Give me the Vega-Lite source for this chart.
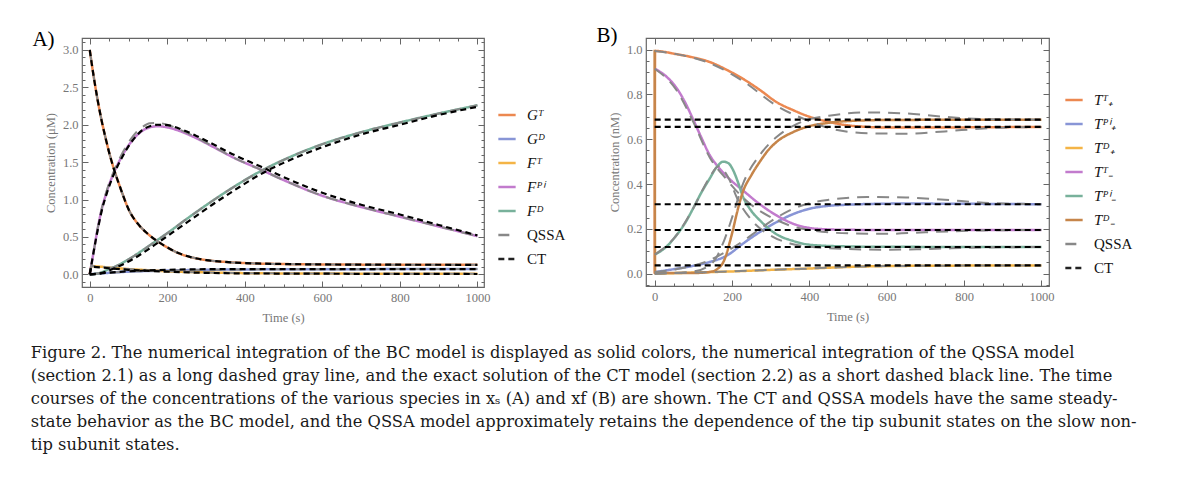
{
  "$schema": "https://vega.github.io/schema/vega-lite/v6.json",
  "padding": {"left": 30, "top": 24, "right": 10, "bottom": 10},
  "datasets": {
    "A_BC": [
      {"s":"Gᵀ","t":0,"c":3.0},{"s":"Gᵀ","t":10,"c":2.65},{"s":"Gᵀ","t":20,"c":2.34},{"s":"Gᵀ","t":30,"c":2.07},{"s":"Gᵀ","t":40,"c":1.84},{"s":"Gᵀ","t":50,"c":1.63},{"s":"Gᵀ","t":64,"c":1.38},{"s":"Gᵀ","t":80,"c":1.14},{"s":"Gᵀ","t":101,"c":0.86},{"s":"Gᵀ","t":125,"c":0.67},{"s":"Gᵀ","t":150,"c":0.54},{"s":"Gᵀ","t":175,"c":0.44},{"s":"Gᵀ","t":200,"c":0.36},{"s":"Gᵀ","t":230,"c":0.28},{"s":"Gᵀ","t":260,"c":0.23},{"s":"Gᵀ","t":300,"c":0.19},{"s":"Gᵀ","t":350,"c":0.165},{"s":"Gᵀ","t":400,"c":0.15},{"s":"Gᵀ","t":500,"c":0.137},{"s":"Gᵀ","t":600,"c":0.132},{"s":"Gᵀ","t":800,"c":0.128},{"s":"Gᵀ","t":1000,"c":0.127},
      {"s":"Gᴰ","t":0,"c":0},{"s":"Gᴰ","t":10,"c":0.005},{"s":"Gᴰ","t":50,"c":0.02},{"s":"Gᴰ","t":100,"c":0.035},{"s":"Gᴰ","t":200,"c":0.05},{"s":"Gᴰ","t":300,"c":0.06},{"s":"Gᴰ","t":400,"c":0.065},{"s":"Gᴰ","t":600,"c":0.068},{"s":"Gᴰ","t":1000,"c":0.07},
      {"s":"Fᵀ","t":0,"c":0},{"s":"Fᵀ","t":5,"c":0.11},{"s":"Fᵀ","t":20,"c":0.105},{"s":"Fᵀ","t":50,"c":0.09},{"s":"Fᵀ","t":100,"c":0.07},{"s":"Fᵀ","t":150,"c":0.055},{"s":"Fᵀ","t":200,"c":0.04},{"s":"Fᵀ","t":300,"c":0.025},{"s":"Fᵀ","t":400,"c":0.015},{"s":"Fᵀ","t":600,"c":0.01},{"s":"Fᵀ","t":1000,"c":0.006},
      {"s":"Fᴾⁱ","t":0,"c":0},{"s":"Fᴾⁱ","t":5,"c":0.15},{"s":"Fᴾⁱ","t":10,"c":0.3},{"s":"Fᴾⁱ","t":20,"c":0.6},{"s":"Fᴾⁱ","t":30,"c":0.85},{"s":"Fᴾⁱ","t":45,"c":1.12},{"s":"Fᴾⁱ","t":64,"c":1.38},{"s":"Fᴾⁱ","t":80,"c":1.55},{"s":"Fᴾⁱ","t":101,"c":1.73},{"s":"Fᴾⁱ","t":120,"c":1.85},{"s":"Fᴾⁱ","t":136,"c":1.92},{"s":"Fᴾⁱ","t":155,"c":1.965},{"s":"Fᴾⁱ","t":175,"c":1.98},{"s":"Fᴾⁱ","t":200,"c":1.965},{"s":"Fᴾⁱ","t":230,"c":1.92},{"s":"Fᴾⁱ","t":275,"c":1.82},{"s":"Fᴾⁱ","t":316,"c":1.71},{"s":"Fᴾⁱ","t":375,"c":1.55},{"s":"Fᴾⁱ","t":441,"c":1.4},{"s":"Fᴾⁱ","t":500,"c":1.26},{"s":"Fᴾⁱ","t":600,"c":1.05},{"s":"Fᴾⁱ","t":700,"c":0.9},{"s":"Fᴾⁱ","t":800,"c":0.77},{"s":"Fᴾⁱ","t":900,"c":0.64},{"s":"Fᴾⁱ","t":1000,"c":0.51},
      {"s":"Fᴰ","t":0,"c":0},{"s":"Fᴰ","t":20,"c":0.01},{"s":"Fᴰ","t":50,"c":0.07},{"s":"Fᴰ","t":64,"c":0.1},{"s":"Fᴰ","t":100,"c":0.2},{"s":"Fᴰ","t":150,"c":0.37},{"s":"Fᴰ","t":175,"c":0.46},{"s":"Fᴰ","t":200,"c":0.55},{"s":"Fᴰ","t":250,"c":0.74},{"s":"Fᴰ","t":316,"c":0.98},{"s":"Fᴰ","t":375,"c":1.18},{"s":"Fᴰ","t":441,"c":1.38},{"s":"Fᴰ","t":500,"c":1.53},{"s":"Fᴰ","t":600,"c":1.74},{"s":"Fᴰ","t":700,"c":1.9},{"s":"Fᴰ","t":800,"c":2.03},{"s":"Fᴰ","t":900,"c":2.15},{"s":"Fᴰ","t":1000,"c":2.26}
    ],
    "A_QSSA": [
      {"s":"Gᵀ","t":0,"c":3.0},{"s":"Gᵀ","t":10,"c":2.65},{"s":"Gᵀ","t":20,"c":2.34},{"s":"Gᵀ","t":30,"c":2.07},{"s":"Gᵀ","t":40,"c":1.84},{"s":"Gᵀ","t":50,"c":1.63},{"s":"Gᵀ","t":64,"c":1.38},{"s":"Gᵀ","t":80,"c":1.14},{"s":"Gᵀ","t":101,"c":0.86},{"s":"Gᵀ","t":125,"c":0.67},{"s":"Gᵀ","t":150,"c":0.54},{"s":"Gᵀ","t":175,"c":0.44},{"s":"Gᵀ","t":200,"c":0.36},{"s":"Gᵀ","t":230,"c":0.28},{"s":"Gᵀ","t":260,"c":0.23},{"s":"Gᵀ","t":300,"c":0.19},{"s":"Gᵀ","t":350,"c":0.165},{"s":"Gᵀ","t":400,"c":0.15},{"s":"Gᵀ","t":500,"c":0.137},{"s":"Gᵀ","t":600,"c":0.132},{"s":"Gᵀ","t":800,"c":0.128},{"s":"Gᵀ","t":1000,"c":0.127},
      {"s":"Gᴰ","t":0,"c":0},{"s":"Gᴰ","t":10,"c":0.005},{"s":"Gᴰ","t":50,"c":0.02},{"s":"Gᴰ","t":100,"c":0.035},{"s":"Gᴰ","t":200,"c":0.05},{"s":"Gᴰ","t":300,"c":0.06},{"s":"Gᴰ","t":400,"c":0.065},{"s":"Gᴰ","t":600,"c":0.068},{"s":"Gᴰ","t":1000,"c":0.07},
      {"s":"Fᵀ","t":0,"c":0},{"s":"Fᵀ","t":5,"c":0.11},{"s":"Fᵀ","t":20,"c":0.105},{"s":"Fᵀ","t":50,"c":0.09},{"s":"Fᵀ","t":100,"c":0.07},{"s":"Fᵀ","t":150,"c":0.055},{"s":"Fᵀ","t":200,"c":0.04},{"s":"Fᵀ","t":300,"c":0.025},{"s":"Fᵀ","t":400,"c":0.015},{"s":"Fᵀ","t":600,"c":0.01},{"s":"Fᵀ","t":1000,"c":0.006},
      {"s":"Fᴾⁱ","t":0,"c":0},{"s":"Fᴾⁱ","t":5,"c":0.15},{"s":"Fᴾⁱ","t":10,"c":0.3},{"s":"Fᴾⁱ","t":20,"c":0.6},{"s":"Fᴾⁱ","t":30,"c":0.86},{"s":"Fᴾⁱ","t":45,"c":1.14},{"s":"Fᴾⁱ","t":64,"c":1.4},{"s":"Fᴾⁱ","t":80,"c":1.58},{"s":"Fᴾⁱ","t":101,"c":1.77},{"s":"Fᴾⁱ","t":120,"c":1.9},{"s":"Fᴾⁱ","t":136,"c":1.97},{"s":"Fᴾⁱ","t":155,"c":2.02},{"s":"Fᴾⁱ","t":175,"c":2.025},{"s":"Fᴾⁱ","t":200,"c":2.0},{"s":"Fᴾⁱ","t":230,"c":1.94},{"s":"Fᴾⁱ","t":275,"c":1.83},{"s":"Fᴾⁱ","t":316,"c":1.715},{"s":"Fᴾⁱ","t":375,"c":1.55},{"s":"Fᴾⁱ","t":441,"c":1.4},{"s":"Fᴾⁱ","t":500,"c":1.26},{"s":"Fᴾⁱ","t":600,"c":1.05},{"s":"Fᴾⁱ","t":700,"c":0.9},{"s":"Fᴾⁱ","t":800,"c":0.77},{"s":"Fᴾⁱ","t":900,"c":0.64},{"s":"Fᴾⁱ","t":1000,"c":0.51},
      {"s":"Fᴰ","t":0,"c":0},{"s":"Fᴰ","t":20,"c":0.01},{"s":"Fᴰ","t":50,"c":0.07},{"s":"Fᴰ","t":64,"c":0.1},{"s":"Fᴰ","t":100,"c":0.2},{"s":"Fᴰ","t":150,"c":0.37},{"s":"Fᴰ","t":175,"c":0.46},{"s":"Fᴰ","t":200,"c":0.55},{"s":"Fᴰ","t":250,"c":0.74},{"s":"Fᴰ","t":316,"c":0.98},{"s":"Fᴰ","t":375,"c":1.18},{"s":"Fᴰ","t":441,"c":1.38},{"s":"Fᴰ","t":500,"c":1.53},{"s":"Fᴰ","t":600,"c":1.74},{"s":"Fᴰ","t":700,"c":1.9},{"s":"Fᴰ","t":800,"c":2.03},{"s":"Fᴰ","t":900,"c":2.15},{"s":"Fᴰ","t":1000,"c":2.26}
    ],
    "A_CT": [
      {"s":"Gᵀ","t":0,"c":3.0},{"s":"Gᵀ","t":10,"c":2.65},{"s":"Gᵀ","t":20,"c":2.34},{"s":"Gᵀ","t":30,"c":2.07},{"s":"Gᵀ","t":40,"c":1.84},{"s":"Gᵀ","t":50,"c":1.63},{"s":"Gᵀ","t":64,"c":1.38},{"s":"Gᵀ","t":80,"c":1.14},{"s":"Gᵀ","t":101,"c":0.86},{"s":"Gᵀ","t":125,"c":0.67},{"s":"Gᵀ","t":150,"c":0.54},{"s":"Gᵀ","t":175,"c":0.44},{"s":"Gᵀ","t":200,"c":0.36},{"s":"Gᵀ","t":230,"c":0.28},{"s":"Gᵀ","t":260,"c":0.23},{"s":"Gᵀ","t":300,"c":0.19},{"s":"Gᵀ","t":350,"c":0.165},{"s":"Gᵀ","t":400,"c":0.15},{"s":"Gᵀ","t":500,"c":0.137},{"s":"Gᵀ","t":600,"c":0.132},{"s":"Gᵀ","t":800,"c":0.128},{"s":"Gᵀ","t":1000,"c":0.127},
      {"s":"Gᴰ","t":0,"c":0},{"s":"Gᴰ","t":100,"c":0.04},{"s":"Gᴰ","t":200,"c":0.06},{"s":"Gᴰ","t":300,"c":0.068},{"s":"Gᴰ","t":1000,"c":0.07},
      {"s":"Fᵀ","t":0,"c":0},{"s":"Fᵀ","t":5,"c":0.1},{"s":"Fᵀ","t":50,"c":0.08},{"s":"Fᵀ","t":100,"c":0.06},{"s":"Fᵀ","t":200,"c":0.035},{"s":"Fᵀ","t":400,"c":0.012},{"s":"Fᵀ","t":1000,"c":0.004},
      {"s":"Fᴾⁱ","t":0,"c":0},{"s":"Fᴾⁱ","t":5,"c":0.15},{"s":"Fᴾⁱ","t":10,"c":0.3},{"s":"Fᴾⁱ","t":20,"c":0.58},{"s":"Fᴾⁱ","t":30,"c":0.83},{"s":"Fᴾⁱ","t":45,"c":1.1},{"s":"Fᴾⁱ","t":64,"c":1.36},{"s":"Fᴾⁱ","t":80,"c":1.53},{"s":"Fᴾⁱ","t":101,"c":1.72},{"s":"Fᴾⁱ","t":120,"c":1.85},{"s":"Fᴾⁱ","t":136,"c":1.93},{"s":"Fᴾⁱ","t":155,"c":1.98},{"s":"Fᴾⁱ","t":175,"c":2.0},{"s":"Fᴾⁱ","t":200,"c":1.995},{"s":"Fᴾⁱ","t":230,"c":1.95},{"s":"Fᴾⁱ","t":275,"c":1.85},{"s":"Fᴾⁱ","t":316,"c":1.745},{"s":"Fᴾⁱ","t":375,"c":1.59},{"s":"Fᴾⁱ","t":441,"c":1.44},{"s":"Fᴾⁱ","t":500,"c":1.3},{"s":"Fᴾⁱ","t":600,"c":1.09},{"s":"Fᴾⁱ","t":700,"c":0.93},{"s":"Fᴾⁱ","t":800,"c":0.8},{"s":"Fᴾⁱ","t":900,"c":0.66},{"s":"Fᴾⁱ","t":1000,"c":0.52},
      {"s":"Fᴰ","t":0,"c":0},{"s":"Fᴰ","t":20,"c":0.005},{"s":"Fᴰ","t":50,"c":0.05},{"s":"Fᴰ","t":64,"c":0.08},{"s":"Fᴰ","t":100,"c":0.17},{"s":"Fᴰ","t":150,"c":0.33},{"s":"Fᴰ","t":175,"c":0.42},{"s":"Fᴰ","t":200,"c":0.51},{"s":"Fᴰ","t":250,"c":0.69},{"s":"Fᴰ","t":316,"c":0.93},{"s":"Fᴰ","t":375,"c":1.13},{"s":"Fᴰ","t":441,"c":1.34},{"s":"Fᴰ","t":500,"c":1.49},{"s":"Fᴰ","t":600,"c":1.7},{"s":"Fᴰ","t":700,"c":1.87},{"s":"Fᴰ","t":800,"c":2.0},{"s":"Fᴰ","t":900,"c":2.13},{"s":"Fᴰ","t":1000,"c":2.24}
    ],
    "B_BC": [
      {"s":"Tᵀ₊","t":0,"c":0},{"s":"Tᵀ₊","t":1,"c":0.994},{"s":"Tᵀ₊","t":56,"c":0.98},{"s":"Tᵀ₊","t":100,"c":0.965},{"s":"Tᵀ₊","t":142,"c":0.945},{"s":"Tᵀ₊","t":186,"c":0.91},{"s":"Tᵀ₊","t":228,"c":0.87},{"s":"Tᵀ₊","t":272,"c":0.82},{"s":"Tᵀ₊","t":315,"c":0.766},{"s":"Tᵀ₊","t":358,"c":0.73},{"s":"Tᵀ₊","t":401,"c":0.7},{"s":"Tᵀ₊","t":444,"c":0.68},{"s":"Tᵀ₊","t":487,"c":0.665},{"s":"Tᵀ₊","t":550,"c":0.655},{"s":"Tᵀ₊","t":600,"c":0.652},{"s":"Tᵀ₊","t":700,"c":0.652},{"s":"Tᵀ₊","t":800,"c":0.653},{"s":"Tᵀ₊","t":1000,"c":0.655},
      {"s":"Tᴾⁱ₊","t":0,"c":0.007},{"s":"Tᴾⁱ₊","t":56,"c":0.022},{"s":"Tᴾⁱ₊","t":100,"c":0.035},{"s":"Tᴾⁱ₊","t":142,"c":0.052},{"s":"Tᴾⁱ₊","t":186,"c":0.08},{"s":"Tᴾⁱ₊","t":228,"c":0.134},{"s":"Tᴾⁱ₊","t":272,"c":0.186},{"s":"Tᴾⁱ₊","t":315,"c":0.23},{"s":"Tᴾⁱ₊","t":358,"c":0.266},{"s":"Tᴾⁱ₊","t":401,"c":0.29},{"s":"Tᴾⁱ₊","t":444,"c":0.302},{"s":"Tᴾⁱ₊","t":487,"c":0.307},{"s":"Tᴾⁱ₊","t":550,"c":0.311},{"s":"Tᴾⁱ₊","t":650,"c":0.313},{"s":"Tᴾⁱ₊","t":800,"c":0.312},{"s":"Tᴾⁱ₊","t":1000,"c":0.31},
      {"s":"Tᴰ₊","t":0,"c":0},{"s":"Tᴰ₊","t":100,"c":0.005},{"s":"Tᴰ₊","t":200,"c":0.01},{"s":"Tᴰ₊","t":300,"c":0.017},{"s":"Tᴰ₊","t":400,"c":0.023},{"s":"Tᴰ₊","t":500,"c":0.03},{"s":"Tᴰ₊","t":600,"c":0.034},{"s":"Tᴰ₊","t":800,"c":0.036},{"s":"Tᴰ₊","t":1000,"c":0.037},
      {"s":"Tᵀ₋","t":0,"c":0.915},{"s":"Tᵀ₋","t":30,"c":0.88},{"s":"Tᵀ₋","t":56,"c":0.83},{"s":"Tᵀ₋","t":80,"c":0.76},{"s":"Tᵀ₋","t":99,"c":0.69},{"s":"Tᵀ₋","t":120,"c":0.61},{"s":"Tᵀ₋","t":142,"c":0.53},{"s":"Tᵀ₋","t":165,"c":0.475},{"s":"Tᵀ₋","t":186,"c":0.435},{"s":"Tᵀ₋","t":228,"c":0.372},{"s":"Tᵀ₋","t":272,"c":0.31},{"s":"Tᵀ₋","t":315,"c":0.26},{"s":"Tᵀ₋","t":358,"c":0.223},{"s":"Tᵀ₋","t":401,"c":0.204},{"s":"Tᵀ₋","t":444,"c":0.198},{"s":"Tᵀ₋","t":487,"c":0.196},{"s":"Tᵀ₋","t":600,"c":0.195},{"s":"Tᵀ₋","t":1000,"c":0.195},
      {"s":"Tᴾⁱ₋","t":0,"c":0.085},{"s":"Tᴾⁱ₋","t":30,"c":0.12},{"s":"Tᴾⁱ₋","t":56,"c":0.171},{"s":"Tᴾⁱ₋","t":80,"c":0.23},{"s":"Tᴾⁱ₋","t":99,"c":0.29},{"s":"Tᴾⁱ₋","t":120,"c":0.36},{"s":"Tᴾⁱ₋","t":142,"c":0.424},{"s":"Tᴾⁱ₋","t":160,"c":0.475},{"s":"Tᴾⁱ₋","t":177,"c":0.5},{"s":"Tᴾⁱ₋","t":190,"c":0.494},{"s":"Tᴾⁱ₋","t":202,"c":0.465},{"s":"Tᴾⁱ₋","t":215,"c":0.41},{"s":"Tᴾⁱ₋","t":228,"c":0.345},{"s":"Tᴾⁱ₋","t":250,"c":0.28},{"s":"Tᴾⁱ₋","t":272,"c":0.238},{"s":"Tᴾⁱ₋","t":315,"c":0.176},{"s":"Tᴾⁱ₋","t":358,"c":0.146},{"s":"Tᴾⁱ₋","t":401,"c":0.129},{"s":"Tᴾⁱ₋","t":487,"c":0.122},{"s":"Tᴾⁱ₋","t":600,"c":0.12},{"s":"Tᴾⁱ₋","t":1000,"c":0.119},
      {"s":"Tᴰ₋","t":0,"c":1.0},{"s":"Tᴰ₋","t":1,"c":0.003},{"s":"Tᴰ₋","t":100,"c":0.003},{"s":"Tᴰ₋","t":150,"c":0.01},{"s":"Tᴰ₋","t":165,"c":0.025},{"s":"Tᴰ₋","t":177,"c":0.05},{"s":"Tᴰ₋","t":186,"c":0.09},{"s":"Tᴰ₋","t":194,"c":0.14},{"s":"Tᴰ₋","t":203,"c":0.2},{"s":"Tᴰ₋","t":211,"c":0.26},{"s":"Tᴰ₋","t":220,"c":0.32},{"s":"Tᴰ₋","t":228,"c":0.365},{"s":"Tᴰ₋","t":250,"c":0.44},{"s":"Tᴰ₋","t":272,"c":0.5},{"s":"Tᴰ₋","t":293,"c":0.55},{"s":"Tᴰ₋","t":315,"c":0.588},{"s":"Tᴰ₋","t":358,"c":0.632},{"s":"Tᴰ₋","t":401,"c":0.659},{"s":"Tᴰ₋","t":444,"c":0.672},{"s":"Tᴰ₋","t":487,"c":0.68},{"s":"Tᴰ₋","t":600,"c":0.686},{"s":"Tᴰ₋","t":1000,"c":0.6875}
    ],
    "B_QSSA": [
      {"s":"Tᵀ₊","t":0,"c":0.994},{"s":"Tᵀ₊","t":56,"c":0.98},{"s":"Tᵀ₊","t":142,"c":0.94},{"s":"Tᵀ₊","t":228,"c":0.86},{"s":"Tᵀ₊","t":315,"c":0.75},{"s":"Tᵀ₊","t":401,"c":0.68},{"s":"Tᵀ₊","t":450,"c":0.65},{"s":"Tᵀ₊","t":550,"c":0.627},{"s":"Tᵀ₊","t":650,"c":0.625},{"s":"Tᵀ₊","t":750,"c":0.635},{"s":"Tᵀ₊","t":850,"c":0.648},{"s":"Tᵀ₊","t":1000,"c":0.655},
      {"s":"Tᴾⁱ₊","t":0,"c":0.007},{"s":"Tᴾⁱ₊","t":56,"c":0.02},{"s":"Tᴾⁱ₊","t":142,"c":0.06},{"s":"Tᴾⁱ₊","t":186,"c":0.1},{"s":"Tᴾⁱ₊","t":228,"c":0.145},{"s":"Tᴾⁱ₊","t":272,"c":0.2},{"s":"Tᴾⁱ₊","t":315,"c":0.25},{"s":"Tᴾⁱ₊","t":358,"c":0.29},{"s":"Tᴾⁱ₊","t":401,"c":0.315},{"s":"Tᴾⁱ₊","t":450,"c":0.33},{"s":"Tᴾⁱ₊","t":550,"c":0.342},{"s":"Tᴾⁱ₊","t":650,"c":0.34},{"s":"Tᴾⁱ₊","t":750,"c":0.33},{"s":"Tᴾⁱ₊","t":850,"c":0.317},{"s":"Tᴾⁱ₊","t":1000,"c":0.31},
      {"s":"Tᴰ₊","t":0,"c":0},{"s":"Tᴰ₊","t":100,"c":0.005},{"s":"Tᴰ₊","t":200,"c":0.01},{"s":"Tᴰ₊","t":300,"c":0.017},{"s":"Tᴰ₊","t":400,"c":0.023},{"s":"Tᴰ₊","t":500,"c":0.03},{"s":"Tᴰ₊","t":600,"c":0.034},{"s":"Tᴰ₊","t":800,"c":0.036},{"s":"Tᴰ₊","t":1000,"c":0.037},
      {"s":"Tᵀ₋","t":0,"c":0.915},{"s":"Tᵀ₋","t":56,"c":0.82},{"s":"Tᵀ₋","t":99,"c":0.68},{"s":"Tᵀ₋","t":142,"c":0.52},{"s":"Tᵀ₋","t":186,"c":0.42},{"s":"Tᵀ₋","t":228,"c":0.34},{"s":"Tᵀ₋","t":272,"c":0.28},{"s":"Tᵀ₋","t":315,"c":0.24},{"s":"Tᵀ₋","t":358,"c":0.21},{"s":"Tᵀ₋","t":401,"c":0.195},{"s":"Tᵀ₋","t":500,"c":0.18},{"s":"Tᵀ₋","t":600,"c":0.178},{"s":"Tᵀ₋","t":700,"c":0.185},{"s":"Tᵀ₋","t":850,"c":0.193},{"s":"Tᵀ₋","t":1000,"c":0.195},
      {"s":"Tᴾⁱ₋","t":0,"c":0.085},{"s":"Tᴾⁱ₋","t":56,"c":0.171},{"s":"Tᴾⁱ₋","t":99,"c":0.29},{"s":"Tᴾⁱ₋","t":142,"c":0.43},{"s":"Tᴾⁱ₋","t":165,"c":0.48},{"s":"Tᴾⁱ₋","t":190,"c":0.43},{"s":"Tᴾⁱ₋","t":215,"c":0.33},{"s":"Tᴾⁱ₋","t":250,"c":0.24},{"s":"Tᴾⁱ₋","t":300,"c":0.17},{"s":"Tᴾⁱ₋","t":350,"c":0.135},{"s":"Tᴾⁱ₋","t":400,"c":0.12},{"s":"Tᴾⁱ₋","t":500,"c":0.11},{"s":"Tᴾⁱ₋","t":600,"c":0.107},{"s":"Tᴾⁱ₋","t":700,"c":0.11},{"s":"Tᴾⁱ₋","t":850,"c":0.117},{"s":"Tᴾⁱ₋","t":1000,"c":0.119},
      {"s":"Tᴰ₋","t":0,"c":0},{"s":"Tᴰ₋","t":100,"c":0.01},{"s":"Tᴰ₋","t":150,"c":0.05},{"s":"Tᴰ₋","t":180,"c":0.15},{"s":"Tᴰ₋","t":200,"c":0.25},{"s":"Tᴰ₋","t":228,"c":0.4},{"s":"Tᴰ₋","t":272,"c":0.53},{"s":"Tᴰ₋","t":315,"c":0.61},{"s":"Tᴰ₋","t":358,"c":0.66},{"s":"Tᴰ₋","t":401,"c":0.69},{"s":"Tᴰ₋","t":450,"c":0.705},{"s":"Tᴰ₋","t":550,"c":0.72},{"s":"Tᴰ₋","t":650,"c":0.715},{"s":"Tᴰ₋","t":750,"c":0.7},{"s":"Tᴰ₋","t":850,"c":0.69},{"s":"Tᴰ₋","t":1000,"c":0.6875}
    ],
    "B_CT": [
      {"s":"Tᵀ₊","t":0,"c":0.655},{"s":"Tᵀ₊","t":1000,"c":0.655},
      {"s":"Tᴾⁱ₊","t":0,"c":0.31},{"s":"Tᴾⁱ₊","t":1000,"c":0.31},
      {"s":"Tᴰ₊","t":0,"c":0.037},{"s":"Tᴰ₊","t":1000,"c":0.037},
      {"s":"Tᵀ₋","t":0,"c":0.195},{"s":"Tᵀ₋","t":1000,"c":0.195},
      {"s":"Tᴾⁱ₋","t":0,"c":0.119},{"s":"Tᴾⁱ₋","t":1000,"c":0.119},
      {"s":"Tᴰ₋","t":0,"c":0.6875},{"s":"Tᴰ₋","t":1000,"c":0.6875}
    ]
  },
  "title": {
    "text": [
      "Figure 2. The numerical integration of the BC model is displayed as solid colors, the numerical integration of the QSSA model",
      "(section 2.1) as a long dashed gray line, and the exact solution of the CT model (section 2.2) as a short dashed black line. The time",
      "courses of the concentrations of the various species in xₛ (A) and xf (B) are shown. The CT and QSSA models have the same steady-",
      "state behavior as the BC model, and the QSSA model approximately retains the dependence of the tip subunit states on the slow non-",
      "tip subunit states."
    ],
    "orient": "bottom", "anchor": "start", "frame": "bounds",
    "font": "DejaVu Serif", "fontSize": 16.3, "fontWeight": "normal", "lineHeight": 23, "color": "#1a1a1a", "offset": 20, "dx": -1
  },
  "spacing": 28,
  "resolve": {"scale": {"color": "independent", "strokeDash": "independent"}, "legend": {"color": "independent", "strokeDash": "independent"}},
  "hconcat": [
    {
      "width": 402, "height": 249,
      "title": {"text": "A)", "anchor": "start", "frame": "bounds", "fontSize": 21, "font": "Liberation Serif", "fontWeight": "normal", "color": "#000", "dx": -12, "dy": 14, "offset": 0},
      "resolve": {"axis": {"x": "independent", "y": "independent"}},
      "layer": [
        {"mark": {"type": "rule", "color": "#dddddd", "strokeWidth": 1}, "encoding": {"y": {"datum": 0, "type": "quantitative", "axis": null}}},
        {"mark": {"type": "rule", "color": "#dddddd", "strokeWidth": 1}, "encoding": {"x": {"datum": 0, "type": "quantitative", "axis": null}}},
        {
          "data": {"name": "A_BC"},
          "mark": {"type": "line", "strokeWidth": 2.5, "interpolate": "monotone"},
          "encoding": {
            "x": {"field": "t", "type": "quantitative", "scale": {"domain": [-20, 1017], "nice": false, "zero": false},
              "axis": {"orient": "bottom", "title": "Time (s)", "values": [0,50,100,150,200,250,300,350,400,450,500,550,600,650,700,750,800,850,900,950,1000], "format": "d",
                "labelExpr": "datum.value % 200 === 0 ? datum.label : ''",
                "tickSize": {"condition": {"test": "datum.value % 200 === 0", "value": -6}, "value": -3}}},
            "y": {"field": "c", "type": "quantitative", "scale": {"domain": [-0.17, 3.16], "nice": false, "zero": false},
              "axis": {"orient": "left", "title": "Concentration (μM)", "values": [-0.1,0,0.1,0.2,0.3,0.4,0.5,0.6,0.7,0.8,0.9,1,1.1,1.2,1.3,1.4,1.5,1.6,1.7,1.8,1.9,2,2.1,2.2,2.3,2.4,2.5,2.6,2.7,2.8,2.9,3,3.1], "format": ".1f",
                "labelExpr": "abs(datum.value*2 - round(datum.value*2)) < 0.001 ? datum.label : ''",
                "tickSize": {"condition": {"test": "abs(datum.value*2 - round(datum.value*2)) < 0.001", "value": -6}, "value": -3}}},
            "color": {"field": "s", "type": "nominal", "scale": {"domain": ["Gᵀ","Gᴰ","Fᵀ","Fᴾⁱ","Fᴰ","QSSA","CT"], "range": ["#EC8850","#8895D6","#F4B446","#C27BCD","#78B19B","#888888","#222222"]},
              "legend": {"title": null, "orient": "none", "legendX": 415, "legendY": 67,
                "encode": {"labels": {"update": {"fontStyle": {"signal": "datum.label === 'QSSA' || datum.label === 'CT' ? 'normal' : 'italic'"}}}}}},
            "strokeDash": {"field": "s", "type": "nominal", "scale": {"domain": ["Gᵀ","Gᴰ","Fᵀ","Fᴾⁱ","Fᴰ","QSSA","CT"], "range": [[1,0],[1,0],[1,0],[1,0],[1,0],[11,8],[6,4]]},
              "legend": {"title": null, "orient": "none", "legendX": 415, "legendY": 67,
                "encode": {"labels": {"update": {"fontStyle": {"signal": "datum.label === 'QSSA' || datum.label === 'CT' ? 'normal' : 'italic'"}}}}}}
          }
        },
        {
          "data": {"name": "A_QSSA"},
          "mark": {"type": "line", "strokeWidth": 2, "color": "#888888", "strokeDash": [12, 8], "interpolate": "monotone"},
          "encoding": {
            "detail": {"field": "s"},
            "x": {"field": "t", "type": "quantitative", "axis": {"orient": "top", "title": null, "labels": false, "values": [0,50,100,150,200,250,300,350,400,450,500,550,600,650,700,750,800,850,900,950,1000],
              "tickSize": {"condition": {"test": "datum.value % 200 === 0", "value": -6}, "value": -3}}},
            "y": {"field": "c", "type": "quantitative", "axis": {"orient": "right", "title": null, "labels": false, "values": [-0.1,0,0.1,0.2,0.3,0.4,0.5,0.6,0.7,0.8,0.9,1,1.1,1.2,1.3,1.4,1.5,1.6,1.7,1.8,1.9,2,2.1,2.2,2.3,2.4,2.5,2.6,2.7,2.8,2.9,3,3.1],
              "tickSize": {"condition": {"test": "abs(datum.value*2 - round(datum.value*2)) < 0.001", "value": -6}, "value": -3}}}
          }
        },
        {
          "data": {"name": "A_CT"},
          "mark": {"type": "line", "strokeWidth": 2.2, "color": "#000000", "strokeDash": [6, 4], "interpolate": "monotone"},
          "encoding": {
            "detail": {"field": "s"},
            "x": {"field": "t", "type": "quantitative", "axis": null},
            "y": {"field": "c", "type": "quantitative", "axis": null}
          }
        }
      ]
    },
    {
      "width": 403, "height": 248,
      "title": {"text": "B)", "anchor": "start", "frame": "bounds", "fontSize": 21, "font": "Liberation Serif", "fontWeight": "normal", "color": "#000", "dx": -12, "dy": 14, "offset": 0},
      "resolve": {"axis": {"x": "independent", "y": "independent"}},
      "layer": [
        {"mark": {"type": "rule", "color": "#dddddd", "strokeWidth": 1}, "encoding": {"y": {"datum": 0, "type": "quantitative", "axis": null}}},
        {
          "data": {"name": "B_BC"},
          "mark": {"type": "line", "strokeWidth": 2.5, "interpolate": "monotone"},
          "encoding": {
            "x": {"field": "t", "type": "quantitative", "scale": {"domain": [-22.5, 1019.6], "nice": false, "zero": false},
              "axis": {"orient": "bottom", "title": "Time (s)", "values": [0,50,100,150,200,250,300,350,400,450,500,550,600,650,700,750,800,850,900,950,1000], "format": "d",
                "labelExpr": "datum.value % 200 === 0 ? datum.label : ''",
                "tickSize": {"condition": {"test": "datum.value % 200 === 0", "value": -6}, "value": -3}}},
            "y": {"field": "c", "type": "quantitative", "scale": {"domain": [-0.055, 1.052], "nice": false, "zero": false},
              "axis": {"orient": "left", "title": "Concentration (nM)", "values": [-0.05,0,0.05,0.1,0.15,0.2,0.25,0.3,0.35,0.4,0.45,0.5,0.55,0.6,0.65,0.7,0.75,0.8,0.85,0.9,0.95,1,1.05], "format": ".1f",
                "labelExpr": "abs(datum.value*5 - round(datum.value*5)) < 0.001 ? datum.label : ''",
                "tickSize": {"condition": {"test": "abs(datum.value*5 - round(datum.value*5)) < 0.001", "value": -6}, "value": -3}}},
            "color": {"field": "s", "type": "nominal", "scale": {"domain": ["Tᵀ₊","Tᴾⁱ₊","Tᴰ₊","Tᵀ₋","Tᴾⁱ₋","Tᴰ₋","QSSA","CT"], "range": ["#EC8850","#8895D6","#F4B446","#C27BCD","#78B19B","#C6854A","#888888","#222222"]},
              "legend": {"title": null, "orient": "none", "legendX": 418, "legendY": 52,
                "encode": {"labels": {"update": {"fontStyle": {"signal": "datum.label === 'QSSA' || datum.label === 'CT' ? 'normal' : 'italic'"}}}}}},
            "strokeDash": {"field": "s", "type": "nominal", "scale": {"domain": ["Tᵀ₊","Tᴾⁱ₊","Tᴰ₊","Tᵀ₋","Tᴾⁱ₋","Tᴰ₋","QSSA","CT"], "range": [[1,0],[1,0],[1,0],[1,0],[1,0],[1,0],[11,8],[6,4]]},
              "legend": {"title": null, "orient": "none", "legendX": 418, "legendY": 52,
                "encode": {"labels": {"update": {"fontStyle": {"signal": "datum.label === 'QSSA' || datum.label === 'CT' ? 'normal' : 'italic'"}}}}}}
          }
        },
        {
          "data": {"name": "B_QSSA"},
          "mark": {"type": "line", "strokeWidth": 2, "color": "#888888", "strokeDash": [12, 8], "interpolate": "monotone"},
          "encoding": {
            "detail": {"field": "s"},
            "x": {"field": "t", "type": "quantitative", "axis": {"orient": "top", "title": null, "labels": false, "values": [0,50,100,150,200,250,300,350,400,450,500,550,600,650,700,750,800,850,900,950,1000],
              "tickSize": {"condition": {"test": "datum.value % 200 === 0", "value": -6}, "value": -3}}},
            "y": {"field": "c", "type": "quantitative", "axis": {"orient": "right", "title": null, "labels": false, "values": [-0.05,0,0.05,0.1,0.15,0.2,0.25,0.3,0.35,0.4,0.45,0.5,0.55,0.6,0.65,0.7,0.75,0.8,0.85,0.9,0.95,1,1.05],
              "tickSize": {"condition": {"test": "abs(datum.value*5 - round(datum.value*5)) < 0.001", "value": -6}, "value": -3}}}
          }
        },
        {
          "data": {"name": "B_CT"},
          "mark": {"type": "line", "strokeWidth": 2.2, "color": "#000000", "strokeDash": [6, 4]},
          "encoding": {
            "detail": {"field": "s"},
            "x": {"field": "t", "type": "quantitative", "axis": null},
            "y": {"field": "c", "type": "quantitative", "axis": null}
          }
        }
      ]
    }
  ],
  "config": {
    "font": "Liberation Serif",
    "view": {"stroke": "#666666", "strokeWidth": 1.2},
    "axis": {"domain": false, "grid": false, "tickColor": "#666666", "tickWidth": 1, "labelFont": "Liberation Serif", "labelFontSize": 12.5, "labelColor": "#777777", "labelPadding": 10, "labelFlush": false, "labelOverlap": false,
      "titleFont": "Liberation Serif", "titleFontSize": 12.5, "titleFontWeight": "normal", "titleColor": "#777777", "titlePadding": 5},
    "legend": {"symbolType": "stroke", "symbolSize": 300, "symbolStrokeWidth": 2.5, "labelFont": "Liberation Serif", "labelFontSize": 15, "labelColor": "#111111", "rowPadding": 6, "labelOffset": 10}
  }
}
